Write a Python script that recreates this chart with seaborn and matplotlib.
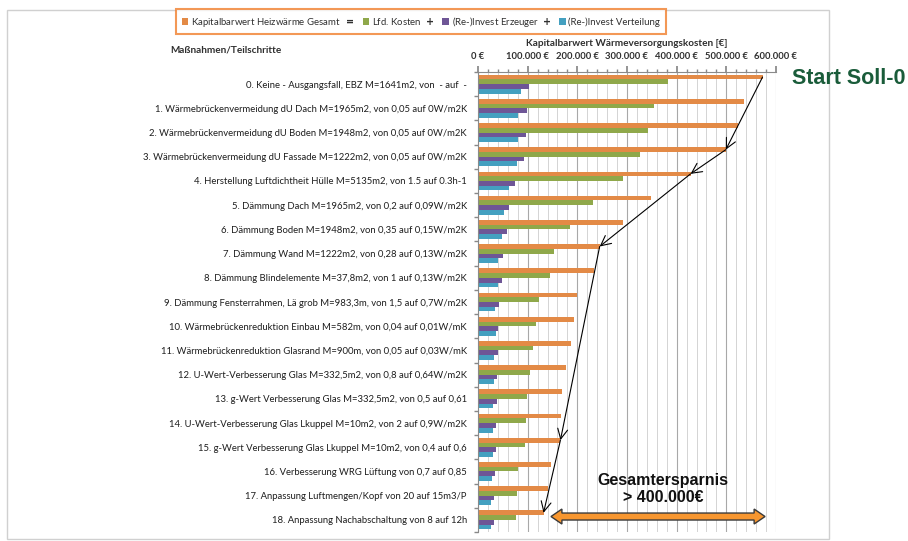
import matplotlib
matplotlib.use("Agg")
import matplotlib.pyplot as plt
import matplotlib.ticker as mticker
from matplotlib.patches import Rectangle, Polygon
import numpy as np
import pandas as pd
import seaborn as sns

# ---------------- data ----------------
categories = [
    "0. Keine - Ausgangsfall, EBZ M=1641m2, von  - auf  -",
    "1. Wärmebrückenvermeidung dU Dach M=1965m2, von 0,05 auf 0W/m2K",
    "2. Wärmebrückenvermeidung dU Boden M=1948m2, von 0,05 auf 0W/m2K",
    "3. Wärmebrückenvermeidung dU Fassade M=1222m2, von 0,05 auf 0W/m2K",
    "4. Herstellung Luftdichtheit Hülle M=5135m2, von 1.5 auf 0.3h-1",
    "5. Dämmung Dach M=1965m2, von 0,2 auf 0,09W/m2K",
    "6. Dämmung Boden M=1948m2, von 0,35 auf 0,15W/m2K",
    "7. Dämmung Wand M=1222m2, von 0,28 auf 0,13W/m2K",
    "8. Dämmung Blindelemente M=37,8m2, von 1 auf 0,13W/m2K",
    "9. Dämmung Fensterrahmen, Lä grob M=983,3m, von 1,5 auf 0,7W/m2K",
    "10. Wärmebrückenreduktion Einbau M=582m, von 0,04 auf 0,01W/mK",
    "11. Wärmebrückenreduktion Glasrand M=900m, von 0,05 auf 0,03W/mK",
    "12. U-Wert-Verbesserung Glas M=332,5m2, von 0,8 auf 0,64W/m2K",
    "13. g-Wert Verbesserung Glas M=332,5m2, von 0,5 auf 0,61",
    "14. U-Wert-Verbesserung Glas Lkuppel M=10m2, von 2 auf 0,9W/m2K",
    "15. g-Wert Verbesserung Glas Lkuppel M=10m2, von 0,4 auf 0,6",
    "16. Verbesserung WRG Lüftung von 0,7 auf 0,85",
    "17. Anpassung Luftmengen/Kopf von 20 auf 15m3/P",
    "18. Anpassung Nachabschaltung von 8 auf 12h",
]

series_names = [
    "Kapitalbarwert Heizwärme Gesamt",
    "Lfd. Kosten",
    "(Re-)Invest Erzeuger",
    "(Re-)Invest Verteilung",
]

gesamt = [573000, 535000, 523000, 499000, 428000, 349000, 293000, 245000, 233000, 200000,
          194000, 188000, 177000, 170000, 167000, 166000, 147000, 141000, 132000]
lfd_kosten = [382000, 354000, 343000, 327000, 291000, 232000, 186000, 154000, 146000, 122000,
              117000, 111000, 104000, 99000, 97000, 95000, 81000, 78000, 76000]
invest_erzeuger = [103000, 99000, 97000, 93000, 75000, 63000, 58000, 50000, 48000, 42000,
                   41000, 40000, 39000, 39000, 37000, 36000, 34000, 33000, 33000]
invest_verteilung = [87000, 81000, 80000, 79000, 63000, 53000, 48000, 41000, 40000, 34000,
                     36000, 33000, 32000, 31000, 31000, 30000, 29000, 27000, 27000]

x_ticks = [0, 100000, 200000, 300000, 400000, 500000, 600000]
arrow_chain = [0, 3, 4, 7, 15, 18]

colors = ["#E38A46", "#8FA84A", "#6E5696", "#44A0C0"]

# ---------------- figure ----------------
sns.set_theme(style="white")
plt.rcParams["font.family"] = ["Lato", "DejaVu Sans"]

df = pd.DataFrame({
    "Massnahme": categories * 4,
    "Serie": sum([[s] * len(categories) for s in series_names], []),
    "Wert": gesamt + lfd_kosten + invest_erzeuger + invest_verteilung,
})

BAR_W = 0.78

fig = plt.figure(figsize=(9.08, 5.41), dpi=100)
ax = fig.add_axes([0.5264, 0.0166, 0.3282, 0.8503])

sns.barplot(data=df, x="Wert", y="Massnahme", hue="Serie", order=categories,
            hue_order=series_names, palette=colors, orient="h", width=BAR_W,
            saturation=1, ax=ax, errorbar=None, linewidth=0, edgecolor="none")

ax.set_xlim(0, 600000)
ax.set_ylim(len(categories) - 0.5, -0.5)
ax.xaxis.tick_top()
ax.xaxis.set_label_position("top")
ax.set_xticks(x_ticks)
ax.xaxis.set_minor_locator(mticker.MultipleLocator(20000))
ax.xaxis.set_major_formatter(mticker.FuncFormatter(
    lambda v, p: f"{int(v):,}".replace(",", ".") + " €"))
ax.grid(True, axis="x", which="major", color="#a8a8a8", lw=0.8)
ax.grid(True, axis="x", which="minor", color="#d4d4d4", lw=0.7)
ax.set_axisbelow(True)
ax.tick_params(axis="x", which="major", top=True, direction="out", length=4,
               color="#888888", labelsize=6.8, pad=4, labelcolor="#303030")
ax.tick_params(axis="x", which="minor", top=True, direction="out", length=2.5,
               color="#888888")
for lab in ax.get_xticklabels():
    lab.set_fontweight("bold")
ax.set_xlabel("Kapitalbarwert Wärmeversorgungskosten [€]", fontsize=7.2,
              fontweight="bold", color="#303030", labelpad=4)
ax.set_ylabel("")
ax.yaxis.set_minor_locator(mticker.FixedLocator(np.arange(-0.5, len(categories), 1)))
ax.tick_params(axis="y", which="major", length=0, labelsize=6.85, pad=8,
               labelcolor="#1e1e1e")
ax.tick_params(axis="y", which="minor", left=True, direction="out", length=3,
               color="#888888")
for s in ["bottom", "right"]:
    ax.spines[s].set_visible(False)
for s in ["top", "left"]:
    ax.spines[s].set_color("#8a8a8a")
    ax.spines[s].set_linewidth(0.8)

leg = ax.get_legend()
handles = leg.legend_handles
leg.remove()
leg_labels = [
    series_names[0] + "  $\\mathbf{=}$",
    series_names[1] + "  $\\mathbf{+}$",
    series_names[2] + "  $\\mathbf{+}$",
    series_names[3],
]
fl = fig.legend(handles, leg_labels, loc="center", bbox_to_anchor=(0.4637, 0.960),
                ncol=4, fontsize=6.9, frameon=True, fancybox=False,
                handlelength=0.7, handleheight=0.7, handletextpad=0.3,
                columnspacing=0.8, borderpad=0.55)
fl.get_frame().set_edgecolor("#F07E2C")
fl.get_frame().set_linewidth(1.5)
for t in fl.get_texts():
    t.set_color("#303030")

fig.text(170 / 908, 1 - 50 / 541, "Maßnahmen/Teilschritte", fontsize=7.2,
         fontweight="bold", color="#303030", ha="left", va="center")

# chart area border
fig.patches.append(Rectangle((7 / 908, 1 - 539 / 541), 822 / 908, 529 / 541,
                             transform=fig.transFigure, fill=False,
                             ec="#d0d0d0", lw=1.0))

# step arrows along the orange bar ends
off = -BAR_W / 2 + BAR_W / 8
for a, b in zip(arrow_chain[:-1], arrow_chain[1:]):
    ax.annotate("", xy=(gesamt[b], b + off), xytext=(gesamt[a], a + off),
                arrowprops=dict(arrowstyle="->,head_length=0.6,head_width=0.3",
                                color="black", lw=0.8, shrinkA=0, shrinkB=0),
                annotation_clip=False)

# double orange arrow (total savings)
yc = 17.86
x0, x1 = 147000, 578000
hl = 22000
sh, hh = 3.5 / 24.25, 7.5 / 24.25
pts = [(x0, yc), (x0 + hl, yc - hh), (x0 + hl, yc - sh), (x1 - hl, yc - sh),
       (x1 - hl, yc - hh), (x1, yc), (x1 - hl, yc + hh), (x1 - hl, yc + sh),
       (x0 + hl, yc + sh), (x0 + hl, yc + hh)]
ax.add_patch(Polygon(pts, closed=True, fc="#F7962F", ec="#3a3a3a", lw=1.0,
                     clip_on=False, zorder=5))

fig.text(663 / 908, 1 - 489 / 541, "Gesamtersparnis\n> 400.000€",
         family=["Liberation Sans", "DejaVu Sans"], fontsize=11.5, fontweight="bold",
         ha="center", va="center", color="#111111", linespacing=1.25)
fig.text(849 / 908, 1 - 78 / 541, "Start Soll-0",
         family=["Liberation Sans", "DejaVu Sans"], fontsize=15.5, fontweight="bold",
         ha="center", va="center", color="#1A5C3A")

fig.savefig("out.png", dpi=100, facecolor="white")
